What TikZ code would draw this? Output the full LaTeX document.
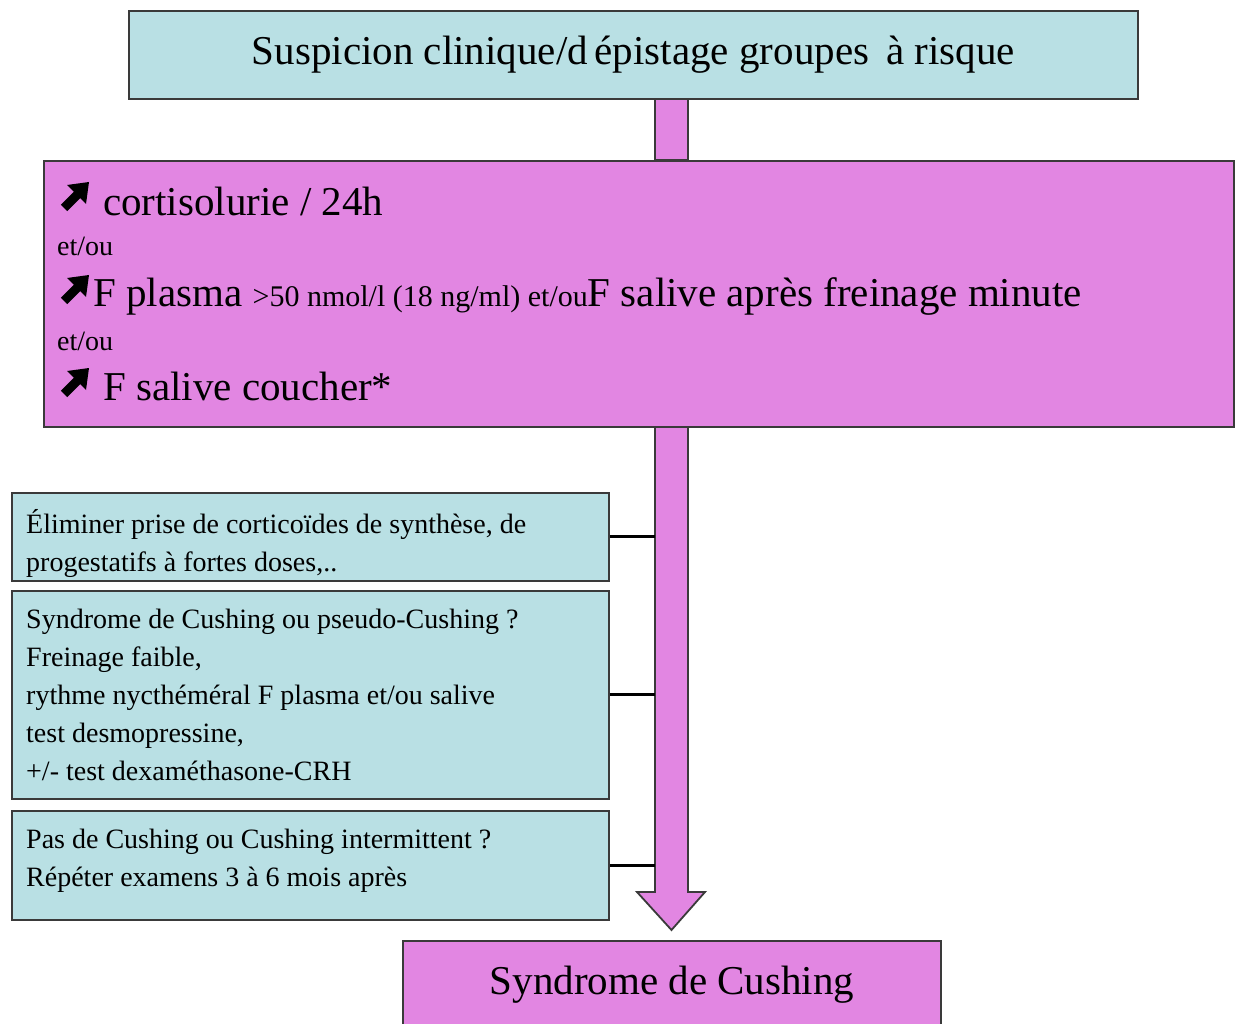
\documentclass[tikz,border=0pt]{standalone}
\usepackage{fontspec}
\setmainfont{Liberation Serif}
\definecolor{boxblue}{HTML}{B9E0E4}
\definecolor{boxpink}{HTML}{E286E2}
\definecolor{edge}{HTML}{3A3A3A}
\begin{document}
\begin{tikzpicture}[x=1pt,y=-1pt,
  bluebox/.style={draw=edge, line width=1.8pt, fill=boxblue, anchor=north west, inner sep=0pt},
  pinkbox/.style={draw=edge, line width=1.8pt, fill=boxpink, anchor=north west, inner sep=0pt},
  bigtext/.style={font=\fontsize{41}{41}\selectfont},
  txt/.style={anchor=base west, inner sep=0pt, font=\fontsize{41}{41}\selectfont},
  smalltxt/.style={anchor=base west, inner sep=0pt, font=\fontsize{28}{28}\selectfont},
  notetxt/.style={anchor=north west, inner sep=0pt, align=left, font=\fontsize{28}{38}\selectfont},
  link/.style={line width=3pt, draw=black},
  flow/.style={draw=edge, line width=1.8pt, fill=boxpink, line join=miter},
  pics/risearrow/.style={code={
    \draw[black, line width=9pt] (4,-4) -- (19,-19);
    \fill[black] (7,-27) -- (29,-30) -- (26,-8) -- cycle;
  }}
]
\useasboundingbox (0,0) rectangle (1237,1024);

% shaft and head geometry of the main flow arrow
\coordinate (shaftL) at (655,0);
\coordinate (shaftR) at (688,0);
\coordinate (headL) at (637,892);
\coordinate (headR) at (705,892);
\coordinate (tip) at (671.5,930);

% corners of the screening tests box
\coordinate (testsNW) at (43,160);
\coordinate (testsSE) at (1233,426);
\coordinate (suspS) at (0,98);

% connector between the first two boxes
\path[flow] (shaftL |- suspS) rectangle (shaftR |- testsNW);

% main flow arrow down to the diagnosis
\path[flow] (shaftL |- testsSE) -- (shaftL |- headL) -- (headL) -- (tip) -- (headR) -- (shaftR |- headR) -- (shaftR |- testsSE);

% entry box
\node[bluebox, minimum width=1009pt, minimum height=88pt, bigtext] (suspicion) at (128,10) {\raisebox{3pt}{Suspicion clinique/d\,épistage groupes \,à risque}};

% screening tests box
\node[pinkbox, minimum width=1190pt, minimum height=266pt] (tests) at (testsNW) {};
\pic at (60,212) {risearrow};
\node[txt] (t1) at (103,216) {cortisolurie / 24h};
\node[smalltxt] (o1) at (57,256) {et/ou};
\pic at (60,305) {risearrow};
\node[txt] (t2) at (93,307) {F plasma \fontsize{30}{30}\selectfont >50 nmol/l (18 ng/ml) et/ou\fontsize{41}{41}\selectfont F salive après freinage minute};
\node[smalltxt] (o2) at (57,351) {et/ou};
\pic at (60,398) {risearrow};
\node[txt] (t3) at (103,400) {F salive coucher*};

% side notes
\node[bluebox, minimum width=597pt, minimum height=88pt] (elim) at (11,492) {};
\node[notetxt] (elimT) at (26,509) {Éliminer prise de corticoïdes de synthèse, de\\progestatifs à fortes doses,..};
\node[bluebox, minimum width=597pt, minimum height=208pt] (pseudo) at (11,590) {};
\node[notetxt] (pseudoT) at (26,609) {Syndrome de Cushing ou pseudo-Cushing ?\\Freinage faible,\\rythme nycthéméral F plasma et/ou salive\\test desmopressine,\\+/- test dexaméthasone-CRH};
\node[bluebox, minimum width=597pt, minimum height=109pt] (interm) at (11,810) {};
\node[notetxt] (intermT) at (26,829) {Pas de Cushing ou Cushing intermittent ?\\Répéter examens 3 à 6 mois après};

\draw[link] (elim.east) -- (elim.east -| shaftL);
\draw[link] (pseudo.east) -- (pseudo.east -| shaftL);
\draw[link] (interm.east) -- (interm.east -| shaftL);

% diagnosis
\node[pinkbox, minimum width=538pt, minimum height=100pt, bigtext, anchor=north] (cushing) at (672,940) {\raisebox{22pt}{Syndrome de Cushing}};
\end{tikzpicture}
\end{document}
